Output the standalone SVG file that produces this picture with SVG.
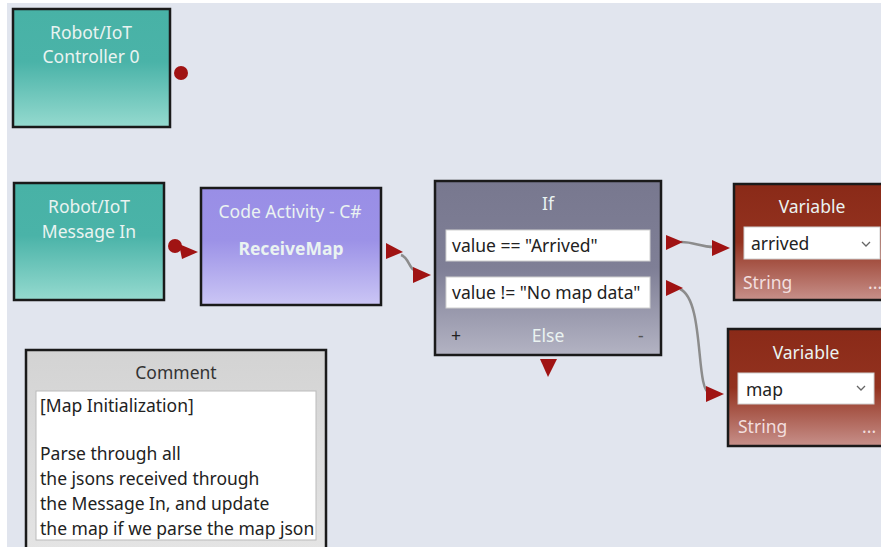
<svg xmlns="http://www.w3.org/2000/svg" width="881" height="547" viewBox="0 0 881 547">
<style>
text{font-family:"Noto Sans","Open Sans","Liberation Sans",sans-serif;font-size:17.5px}
.hdr{fill:#eaf3f1;text-anchor:middle}
.frame{stroke:#1a1a1a;stroke-width:2.5}
.port{fill:#a01313}
.wire{fill:none;stroke:#8c8c8c;stroke-width:2.5}
.in{fill:#fff;stroke:#cfcfcf;stroke-width:1}
.dark{fill:#222}
.small{fill:#f2dede}
</style>
<defs>
<linearGradient id="teal" x1="0" y1="0" x2="0" y2="1">
<stop offset="0" stop-color="#48b2a6"/><stop offset="0.45" stop-color="#4ab3a8"/><stop offset="1" stop-color="#95dacf"/>
</linearGradient>
<linearGradient id="purple" x1="0" y1="0" x2="0" y2="1">
<stop offset="0" stop-color="#998ee6"/><stop offset="0.45" stop-color="#9c92e7"/><stop offset="1" stop-color="#cbc6f5"/>
</linearGradient>
<linearGradient id="grey" x1="0" y1="0" x2="0" y2="1">
<stop offset="0" stop-color="#78788f"/><stop offset="0.5" stop-color="#7f7f96"/><stop offset="1" stop-color="#b3b3c3"/>
</linearGradient>
<linearGradient id="red" x1="0" y1="0" x2="0" y2="1">
<stop offset="0" stop-color="#8a2a18"/><stop offset="0.5" stop-color="#93321f"/><stop offset="1" stop-color="#c7908a"/>
</linearGradient>
<linearGradient id="comm" x1="0" y1="0" x2="0" y2="1">
<stop offset="0" stop-color="#d3d3d3"/><stop offset="1" stop-color="#e4e4e4"/>
</linearGradient>
</defs>
<rect x="0" y="0" width="881" height="547" fill="#ffffff"/>
<rect x="7" y="3" width="874" height="544" fill="#e1e5ee"/>

<g id="connectors">
<path class="wire" d="M401,255 C410,258 408,270 418,272"/>
<path class="wire" d="M681,242 C695,242 700,247 714,247"/>
<path class="wire" d="M680,289 C705,300 695,392 710,393"/>
<polygon class="port" points="179,244 198,252 182,259"/>
<circle class="port" cx="175" cy="246" r="7"/>
<polygon class="port" points="386,243 403,252 386,259"/>
<polygon class="port" points="413,267 431,275 413,283"/>
<polygon class="port" points="666,235 683,242 666,250"/>
<polygon class="port" points="712,240 730,248 712,256"/>
<polygon class="port" points="666,280 683,288 666,296"/>
<polygon class="port" points="706,386 724,394 706,402"/>
<polygon class="port" points="540,359 557,359 548,377"/>
<circle class="port" cx="181" cy="73" r="7"/>
</g>

<g id="controller">
<rect x="13" y="9" width="157" height="118" fill="url(#teal)" class="frame"/>
<text class="hdr" x="91" y="39">Robot/IoT</text>
<text class="hdr" x="91" y="63">Controller 0</text>
</g>

<g id="message-in">
<rect x="14" y="183" width="150" height="117" fill="url(#teal)" class="frame"/>
<text class="hdr" x="89" y="213">Robot/IoT</text>
<text class="hdr" x="89" y="238">Message In</text>
</g>

<g id="code-activity">
<rect x="201" y="188" width="180" height="117" fill="url(#purple)" class="frame"/>
<text class="hdr" x="290" y="218" fill="#eeeefc">Code Activity - C#</text>
<text class="hdr" x="291" y="255" style="font-weight:bold" fill="#ffffff">ReceiveMap</text>
</g>

<g id="if">
<rect x="435" y="181" width="226" height="174" fill="url(#grey)" class="frame"/>
<text class="hdr" x="548" y="210" fill="#f2f2f6">If</text>
<rect class="in" x="446" y="230" width="204" height="31"/>
<text class="dark" x="452" y="252">value == "Arrived"</text>
<rect class="in" x="446" y="277" width="204" height="31"/>
<text class="dark" x="452" y="299">value != "No map data"</text>
<text class="dark" x="451" y="342">+</text>
<text class="hdr" x="548" y="342" fill="#eeeef4">Else</text>
<text x="638" y="342" fill="#555">-</text>
</g>

<g id="var-arrived">
<rect x="734" y="184" width="150" height="116" fill="url(#red)" class="frame"/>
<text class="hdr" x="812" y="213" fill="#f6e6e0">Variable</text>
<rect class="in" x="744" y="227" width="136" height="32"/>
<text class="dark" x="751" y="250">arrived</text>
<path d="M862,242 l4,4 l4,-4" fill="none" stroke="#666" stroke-width="1.3"/>
<text class="small" x="743" y="289">String</text>
<text class="small" x="868" y="289">...</text>
</g>

<g id="var-map">
<rect x="728" y="329" width="156" height="117" fill="url(#red)" class="frame"/>
<text class="hdr" x="806" y="359" fill="#f6e6e0">Variable</text>
<rect class="in" x="738" y="373" width="136" height="31"/>
<text class="dark" x="746" y="396">map</text>
<path d="M857,386 l4,4 l4,-4" fill="none" stroke="#666" stroke-width="1.3"/>
<text class="small" x="738" y="433">String</text>
<text class="small" x="862" y="433">...</text>
</g>

<g id="comment">
<rect x="26" y="350" width="300" height="200" fill="url(#comm)" class="frame"/>
<text x="176" y="379" fill="#333" text-anchor="middle">Comment</text>
<rect x="36" y="391" width="280" height="149" fill="#fff" stroke="#bbb" stroke-width="1"/>
<text class="dark" x="40" y="412">[Map Initialization]</text>
<text class="dark" x="40" y="460">Parse through all</text>
<text class="dark" x="40" y="485">the jsons received through</text>
<text class="dark" x="40" y="510">the Message In, and update</text>
<text class="dark" x="40" y="535">the map if we parse the map json</text>
</g>
</svg>
